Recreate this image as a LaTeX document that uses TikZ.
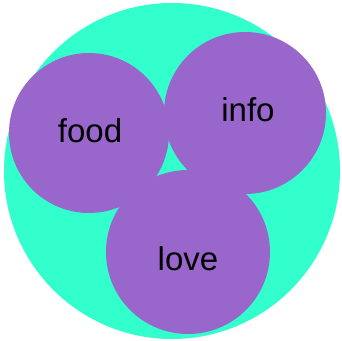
\documentclass[tikz,border=0pt]{standalone}
\usepackage{fontspec}
\setmainfont{Liberation Sans}
\definecolor{turq}{HTML}{33FFCC}
\definecolor{purp}{HTML}{9966CC}
\begin{document}
\begin{tikzpicture}[x=1pt,y=-1pt,
  blob/.style={fill=purp,draw=none},
  lbl/.style={font=\fontsize{33}{33}\selectfont,text=black,anchor=base,inner sep=0pt}]
\useasboundingbox (0,0) rectangle (342,340);
\fill[white] (0,0) rectangle (342,340);
\fill[turq] (172,171) circle[radius=168];
\fill[blob] (89,133) circle[radius=80];
\fill[blob] (245,113) circle[radius=81];
\fill[blob] (188,252) circle[radius=82];
\node[lbl] (food) at (90,142) {food};
\node[lbl] (info) at (248,121) {info};
\node[lbl] (love) at (188,270) {love};
\end{tikzpicture}
\end{document}
